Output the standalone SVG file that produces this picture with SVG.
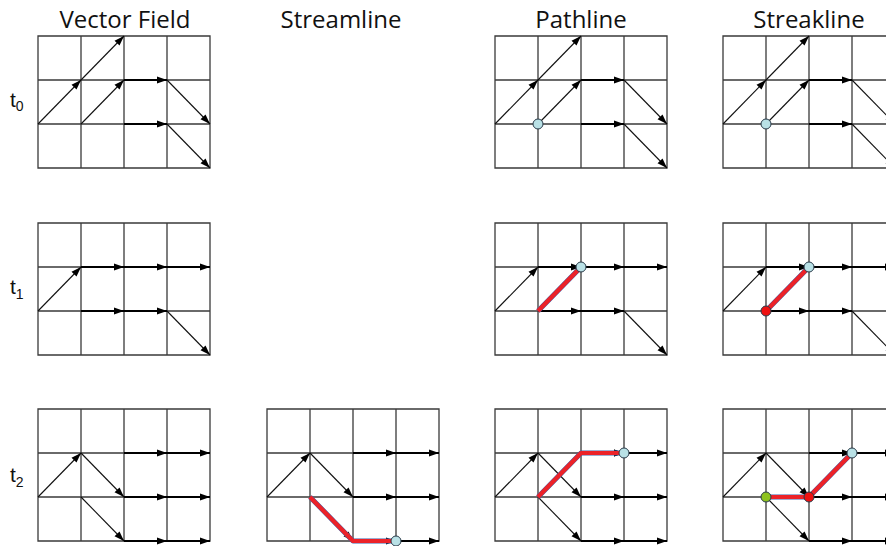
<svg xmlns="http://www.w3.org/2000/svg" xmlns:xlink="http://www.w3.org/1999/xlink" width="886" height="546" viewBox="0 0 886 546">
<style>
.title{font-family:"Open Sans","Liberation Sans",sans-serif;font-size:24px;fill:#111;text-anchor:middle}
.tl{font-family:"Liberation Sans",Arial,sans-serif;font-size:21px;fill:#111}
.grid{fill:none;stroke:#3a3a3a;stroke-width:1.3}
.thin{stroke:#111;stroke-width:1.1;fill:none;marker-end:url(#ah)}
.thick{stroke:#000;stroke-width:2.2;fill:none;marker-end:url(#ah)}
.under{stroke:#3d5fa8;stroke-width:5;fill:none;stroke-linejoin:round}
.red{stroke:#ec2228;stroke-width:4.2;fill:none;stroke-linejoin:round}
.pt{stroke:#2a3b4a;stroke-width:1}
.blue{fill:#b9e1e6}
.rdot{fill:#ee1111}
.gdot{fill:#8dc21f}
</style>
<defs>
<marker id="ah" markerUnits="userSpaceOnUse" markerWidth="11" markerHeight="8" refX="10" refY="4" orient="auto">
<path d="M0,0.5 L10,4 L0,7.5 z" fill="#000"/>
</marker>
<path id="grid" class="grid" d="M0,0 H172 V132 H0 Z M43,0 V132 M86,0 V132 M129,0 V132 M0,44 H172 M0,88 H172"/>
<g id="f0">
<path class="thin" d="M0,88 L43,44"/>
<path class="thin" d="M43,44 L86,0"/>
<path class="thin" d="M43,88 L86,44"/>
<path class="thick" d="M86,44 L129,44"/>
<path class="thin" d="M129,44 L172,88"/>
<path class="thick" d="M86,88 L129,88"/>
<path class="thin" d="M129,88 L172,132"/>
</g>
<g id="f1">
<path class="thin" d="M0,88 L43,44"/>
<path class="thick" d="M43,44 L86,44"/>
<path class="thick" d="M86,44 L129,44"/>
<path class="thick" d="M129,44 L172,44"/>
<path class="thick" d="M43,88 L86,88"/>
<path class="thick" d="M86,88 L129,88"/>
<path class="thin" d="M129,88 L172,132"/>
</g>
<g id="f2">
<path class="thin" d="M0,88 L43,44"/>
<path class="thin" d="M43,44 L86,88"/>
<path class="thin" d="M43,88 L86,132"/>
<path class="thick" d="M86,44 L129,44"/>
<path class="thick" d="M129,44 L172,44"/>
<path class="thick" d="M86,88 L129,88"/>
<path class="thick" d="M129,88 L172,88"/>
<path class="thick" d="M86,132 L129,132"/>
<path class="thick" d="M129,132 L172,132"/>
</g>
</defs>
<rect width="886" height="546" fill="#fff"/>
<g id="titles">
<text class="title" x="125" y="28">Vector Field</text>
<text class="title" x="341" y="28">Streamline</text>
<text class="title" x="581" y="28">Pathline</text>
<text class="title" x="809" y="28">Streakline</text>
</g>
<g id="timelabels">
<text class="tl" x="10" y="107">t<tspan font-size="14" dy="4">0</tspan></text>
<text class="tl" x="10" y="294">t<tspan font-size="14" dy="5">1</tspan></text>
<text class="tl" x="10" y="482">t<tspan font-size="14" dy="5">2</tspan></text>
</g>
<g id="vf-t0" transform="translate(38,36)"><use xlink:href="#grid"/><use xlink:href="#f0"/></g>
<g id="vf-t1" transform="translate(38,223)"><use xlink:href="#grid"/><use xlink:href="#f1"/></g>
<g id="vf-t2" transform="translate(38,409)"><use xlink:href="#grid"/><use xlink:href="#f2"/></g>
<g id="sl-t2" transform="translate(267,409)"><use xlink:href="#grid"/><use xlink:href="#f2"/>
<path class="under" d="M43,88 L86,132 L129,132"/>
<path class="red" d="M43,88 L86,132 L129,132"/>
<circle class="pt blue" cx="129" cy="132" r="5"/>
</g>
<g id="pl-t0" transform="translate(495,36)"><use xlink:href="#grid"/><use xlink:href="#f0"/>
<circle class="pt blue" cx="43" cy="88" r="5"/>
</g>
<g id="pl-t1" transform="translate(495,223)"><use xlink:href="#grid"/><use xlink:href="#f1"/>
<path class="under" d="M43,88 L86,44"/>
<path class="red" d="M43,88 L86,44"/>
<circle class="pt blue" cx="86" cy="44" r="5"/>
</g>
<g id="pl-t2" transform="translate(495,409)"><use xlink:href="#grid"/><use xlink:href="#f2"/>
<path class="thick" d="M86,44 L129,44"/>
<path class="under" d="M43,88 L86,44 L125,44"/>
<path class="red" d="M43,88 L86,44 L125,44"/>
<circle class="pt blue" cx="129" cy="44" r="5"/>
</g>
<g id="sk-t0" transform="translate(723,36)"><use xlink:href="#grid"/><use xlink:href="#f0"/>
<circle class="pt blue" cx="43" cy="88" r="5"/>
</g>
<g id="sk-t1" transform="translate(723,223)"><use xlink:href="#grid"/><use xlink:href="#f1"/>
<path class="under" d="M43,88 L86,44"/>
<path class="red" d="M43,88 L86,44"/>
<circle class="pt rdot" cx="43" cy="88" r="5"/>
<circle class="pt blue" cx="86" cy="44" r="5"/>
</g>
<g id="sk-t2" transform="translate(723,409)"><use xlink:href="#grid"/><use xlink:href="#f2"/>
<path class="under" d="M43,88 L86,88 L129,44"/>
<path class="red" d="M43,88 L86,88 L129,44"/>
<circle class="pt gdot" cx="43" cy="88" r="5"/>
<circle class="pt rdot" cx="86" cy="88" r="5"/>
<circle class="pt blue" cx="129" cy="44" r="5"/>
</g>
</svg>
